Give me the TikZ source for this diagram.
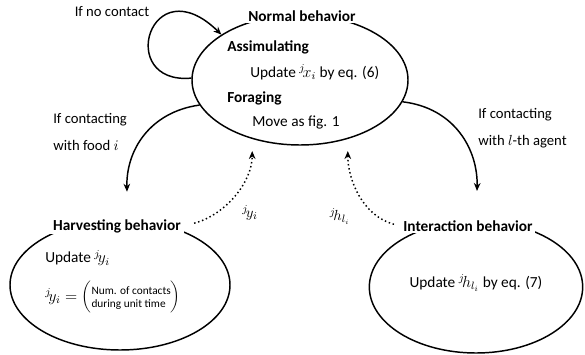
\documentclass[tikz,border=0pt]{standalone}
\usepackage{fontspec}
\setmainfont{Carlito}
\usetikzlibrary{arrows.meta,shapes.geometric}
\begin{document}
\begin{tikzpicture}[x=0.75pt,y=-0.75pt,
	behav/.style={draw,ellipse,line width=1.1pt,inner sep=0pt},
	title/.style={fill=white,inner xsep=2pt,inner ysep=1pt,font=\fontsize{11.5}{13}\selectfont\bfseries},
	sub/.style={anchor=west,inner sep=0pt,font=\fontsize{11.5}{13}\selectfont\bfseries},
	txt/.style={anchor=west,inner sep=0pt,font=\fontsize{11.5}{13}\selectfont},
	lbl/.style={align=left,inner sep=0pt,font=\fontsize{11}{13}\selectfont},
	trans/.style={line width=1.1pt,-{Stealth[length=6pt,width=5pt]}},
	feed/.style={line width=1.1pt,dotted,-{Stealth[length=6pt,width=5pt]}}]
	\useasboundingbox (0,0) rectangle (585,354);
	\node[behav,minimum width=162pt,minimum height=97.5pt] at (300,80) (normal) {};
	\node[behav,minimum width=165pt,minimum height=97.5pt] at (120,285) (harv) {};
	\node[behav,minimum width=160pt,minimum height=99pt] at (476,287) (inter) {};
	\node[title] at (302,16) (normaltitle) {Normal behavior};
	\node[title] at (117,226) (harvtitle) {Harvesting behavior};
	\node[title] at (468,226) (intertitle) {Interaction behavior};
	\node[sub] at (227,47) (assim) {Assimulating};
	\node[txt] at (250,72) (updx) {Update ${}^{j}\!x_i$ by eq. (6)};
	\node[sub] at (227,98) (forag) {Foraging};
	\node[txt] at (252,123) (move) {Move as fig. 1};
	\node[txt] at (45,258) (updy) {Update ${}^{j}\!y_i$};
	\node[txt] at (45,297) (numy) {${}^{j}\!y_i=\left(\mbox{\fontsize{8.5}{9.5}\selectfont\begin{tabular}{@{}l@{}}Num. of contacts\\during unit time\end{tabular}}\right)$};
	\node[txt,anchor=center] at (476,283) (updh) {Update ${}^{j}\!h_{l_i}$ by eq. (7)};
	\node[lbl] at (112,12) (nocont) {If no contact};
	\node[lbl,anchor=west] at (53,132) (food) {If contacting\\[7pt]with food $i$};
	\node[lbl,anchor=west] at (478,128) (agent) {If contacting\\[7pt]with $l$-th agent};
	\node[lbl] at (250,213) (ylab) {${}^{j}\!y_i$};
	\node[lbl] at (340,216) (hlab) {${}^{j}\!h_{l_i}$};
	\draw[trans] (normal.179) .. controls (115,85) and (150,-35) .. (normal.150);
	\draw[trans] (normal.194) .. controls (150,112) and (126,150) .. ([shift={(10,-26)}]harvtitle.north);
	\draw[trans] (normal.-12) .. controls (455,108) and (478,150) .. ([shift={(9,-28)}]intertitle.north);
	\draw[feed,shorten <=8pt,shorten >=9pt] (harvtitle.east) to[out=15,in=-90] (normal.231);
	\draw[feed,shorten <=5pt,shorten >=9pt] (intertitle.west) to[out=165,in=-90] (normal.309);
\end{tikzpicture}
\end{document}
